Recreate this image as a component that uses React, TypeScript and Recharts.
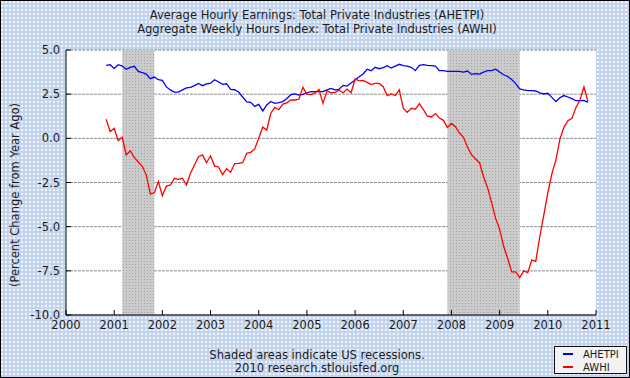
import { LineChart, Line, XAxis, YAxis, CartesianGrid, ReferenceArea, Legend } from "recharts";

// monthly, Nov 2000 .. Nov 2010, % change from year ago
const ahetpi = [
  4.13, 4.17, 3.96, 4.17, 4.09, 3.91, 4.02, 4.08, 3.79, 3.72,
  3.64, 3.38, 3.47, 3.32, 3.28, 2.91, 2.74, 2.62, 2.62, 2.74,
  2.85, 2.89, 2.98, 3.11, 2.98, 3.08, 3.12, 3.32, 3.19, 3.06,
  3.09, 2.77, 2.75, 2.62, 2.34, 2.06, 2.04, 1.81, 1.92, 1.55,
  1.89, 2.09, 1.98, 2.02, 2.08, 2.25, 2.47, 2.51, 2.45, 2.49,
  2.58, 2.64, 2.64, 2.64, 2.64, 2.74, 2.83, 2.74, 2.77, 3.0,
  2.96, 3.13, 3.3, 3.49, 3.64, 3.91, 3.83, 4.02, 3.94, 4.0,
  4.11, 3.98, 4.09, 4.19, 4.11, 4.09, 4.02, 3.83, 4.13, 4.17,
  4.13, 4.11, 4.09, 3.83, 3.83, 3.79, 3.79, 3.79, 3.79, 3.75,
  3.81, 3.62, 3.66, 3.64, 3.75, 3.83, 3.83, 3.91, 3.75, 3.6,
  3.5, 3.33, 3.1, 2.8, 2.74, 2.7, 2.7, 2.68, 2.57, 2.51,
  2.55, 2.32, 2.08, 2.3, 2.42, 2.34, 2.25, 2.13, 2.13, 2.15,
  2.04,
];
const awhi = [
  1.08, 0.38, 0.57, -0.13, 0.06, -0.94, -0.7, -1.08, -1.34, -1.58,
  -2.08, -3.15, -3.08, -2.45, -3.25, -2.7, -2.64, -2.26, -2.32, -2.26,
  -2.64, -1.98, -1.51, -1.04, -0.94, -1.38, -1.0, -1.57, -1.62, -2.06,
  -1.72, -1.92, -1.43, -1.42, -1.38, -0.85, -0.79, -0.6, 0.0, 0.64,
  0.47, 1.42, 1.75, 1.62, 1.94, 2.0, 2.17, 2.17, 2.21, 2.89,
  2.49, 2.47, 2.57, 2.77, 1.98, 2.7, 2.58, 2.6, 2.72, 2.58,
  2.79, 2.58, 3.36, 3.25, 3.28, 3.17, 3.04, 3.11, 3.11, 2.92,
  2.42, 2.51, 2.42, 2.74, 1.7, 1.47, 1.7, 1.64, 1.96, 1.62,
  1.26, 1.21, 1.4, 1.15, 1.02, 0.62, 0.85, 0.66, 0.3, 0.06,
  -0.51, -0.92, -1.17, -1.38, -2.19, -2.79, -3.64, -4.53, -5.15, -6.11,
  -6.8, -7.56, -7.56, -7.88, -7.5, -7.6, -6.89, -6.96, -5.57, -4.34,
  -3.08, -2.02, -1.23, -0.06, 0.62, 1.0, 1.13, 1.75, 2.17, 2.92,
  2.08,
];
const yearTicks = [2000, 2001, 2002, 2003, 2004, 2005, 2006, 2007, 2008, 2009, 2010, 2011];
const valueTicks = [-10, -7.5, -5, -2.5, 0, 2.5, 5];
const recessions = [
  { from: 2001 + 2 / 12, to: 2001 + 10 / 12 },
  { from: 2007 + 11 / 12, to: 2009 + 5 / 12 },
];
const startYear = 2000 + 10 / 12; // Nov 2000

const data = ahetpi.map((v, i) => ({ t: startYear + i / 12, AHETPI: v, AWHI: awhi[i] }));

const font = "'DejaVu Sans', Verdana, sans-serif";
const txt = "#1a1a1a";
const fs = 11.5;

function LegendBox({ payload }: any) {
  return (
    <div style={{ width: 71, height: 26, border: "1px solid #111", background: "#f2f2f2", fontFamily: font, fontSize: 10, color: txt }}>
      {(payload || []).map((p: any) => (
        <div key={p.value} style={{ display: "flex", alignItems: "center", height: 12, marginTop: 1 }}>
          <span style={{ display: "inline-block", width: 10, height: 2, background: p.color, marginLeft: 8, marginRight: 10 }} />
          <span>{p.value}</span>
        </div>
      ))}
    </div>
  );
}

export default function App() {
  return (
    <div
      style={{
        position: "absolute", left: 0, top: 0, width: 630, height: 378, overflow: "hidden",
        backgroundColor: "#c3d4ef",
        backgroundImage: "radial-gradient(rgba(255,255,255,0.8) 0.7px, transparent 0.9px)",
        backgroundSize: "4px 4px",
        fontFamily: font, color: txt,
      }}
    >
      <div style={{ position: "absolute", top: 8, width: 634, textAlign: "center", fontSize: fs, lineHeight: "14px" }}>
        <div>Average Hourly Earnings: Total Private Industries (AHETPI)</div>
        <div>Aggregate Weekly Hours Index: Total Private Industries (AWHI)</div>
      </div>
      <LineChart width={630} height={378} data={data} margin={{ top: 50, right: 34, bottom: 33, left: 21 }}>
        <defs>
          <pattern id="recess" width="3" height="3" patternUnits="userSpaceOnUse">
            <rect width="3" height="3" fill="#cbcbcb" />
            <rect width="1" height="1" fill="#a2a2a2" />
          </pattern>
        </defs>
        <CartesianGrid vertical={false} fill="#ffffff" stroke="#8a8a8a" strokeDasharray="3 1" />
        <XAxis
          dataKey="t" type="number" domain={[2000, 2011]} ticks={yearTicks} height={30}
          stroke="#000" tickSize={-5} tickMargin={11}
          tick={{ fontSize: fs, fill: txt, fontFamily: font }}
          tickLine={{ stroke: "#000" }} axisLine={{ stroke: "#000" }}
        />
        <YAxis
          type="number" domain={[-10, 5]} ticks={valueTicks} width={45}
          tickSize={-5} tickMargin={11} tickFormatter={(v: number) => v.toFixed(1)}
          tick={{ fontSize: fs, fill: txt, fontFamily: font }}
          tickLine={{ stroke: "#000" }} axisLine={{ stroke: "#000" }}
          label={{
            content: () => (
              <text transform="translate(15,195) rotate(-90)" textAnchor="middle" dominantBaseline="central" fontSize={fs} fontFamily={font} fill={txt}>
                (Percent Change from Year Ago)
              </text>
            ),
          }}
        />
        {recessions.map((r) => (
          <ReferenceArea key={r.from} x1={r.from} x2={r.to} y1={-10} y2={5} fill="url(#recess)" fillOpacity={1} stroke="none" />
        ))}
        <Line dataKey="AHETPI" stroke="#0000ff" strokeWidth={1.3} dot={false} isAnimationActive={false} />
        <Line dataKey="AWHI" stroke="#ff0000" strokeWidth={1.3} dot={false} isAnimationActive={false} />
        <Legend
          layout="vertical" align="center" verticalAlign="middle"
          wrapperStyle={{ left: 554, top: 346, width: 73, height: 28 }}
          content={(props: any) => <LegendBox payload={props.payload} />}
        />
      </LineChart>
      <div style={{ position: "absolute", top: 349, width: 634, textAlign: "center", fontSize: fs, lineHeight: "13px" }}>
        <div>Shaded areas indicate US recessions.</div>
        <div>2010 research.stlouisfed.org</div>
      </div>
      <div style={{ position: "absolute", inset: 0, border: "1px solid #000", pointerEvents: "none" }} />
    </div>
  );
}
